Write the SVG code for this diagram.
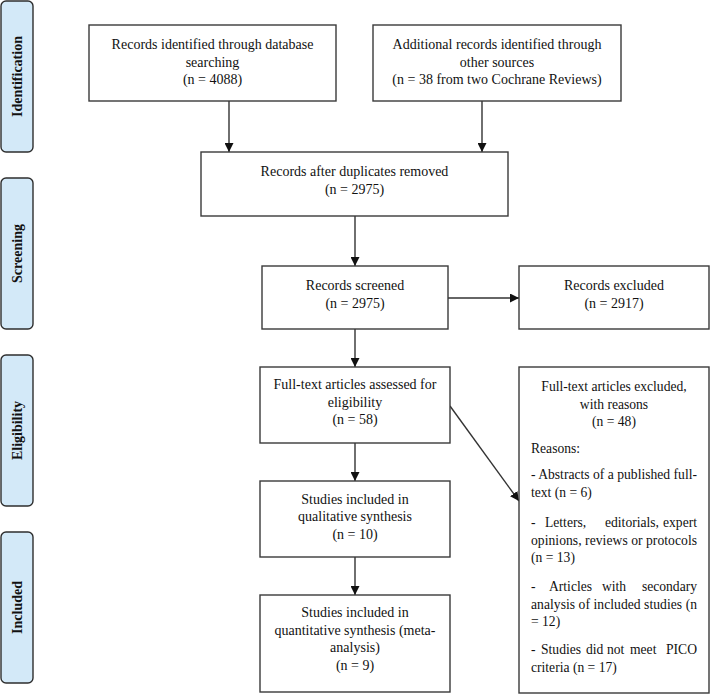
<svg xmlns="http://www.w3.org/2000/svg" width="710" height="697" viewBox="0 0 710 697">
<style>
.bg{fill:#ffffff}
.box{fill:#ffffff;stroke:#3a3a3a;stroke-width:1.4}
.phase{fill:#d3e9f8;stroke:#2e2e2e;stroke-width:1.4}
.t{font-family:"Liberation Serif","Times New Roman",serif;font-size:14px;fill:#111;text-anchor:middle}
.x{font-family:"Liberation Serif","Times New Roman",serif;font-size:13.6px;fill:#111;text-anchor:middle}
.l{font-family:"Liberation Serif","Times New Roman",serif;font-size:13.6px;fill:#111}
.e{font-family:"Liberation Serif","Times New Roman",serif;font-size:13.6px;fill:#111;text-anchor:end}
.p{font-family:"Liberation Serif","Times New Roman",serif;font-size:14px;font-weight:bold;fill:#111;text-anchor:middle}
.c{stroke:#333;stroke-width:1.4;fill:none}
</style>
<defs>
<marker id="ah" viewBox="0 0 10 10" refX="10" refY="5" markerWidth="9" markerHeight="9" markerUnits="userSpaceOnUse" orient="auto">
<path d="M0,0 L10,5 L0,10 Z" fill="#111"/>
</marker>
</defs>
<rect class="bg" x="0" y="0" width="710" height="697"/>

<g id="phase-identification">
<rect class="phase" x="1" y="1" width="32" height="151" rx="5"/>
<text class="p" transform="translate(22,76.5) rotate(-90)">Identification</text>
</g>
<g id="phase-screening">
<rect class="phase" x="1" y="178" width="32" height="151" rx="5"/>
<text class="p" transform="translate(22,253.5) rotate(-90)">Screening</text>
</g>
<g id="phase-eligibility">
<rect class="phase" x="1" y="355" width="32" height="151" rx="5"/>
<text class="p" transform="translate(22,430.5) rotate(-90)">Eligibility</text>
</g>
<g id="phase-included">
<rect class="phase" x="1" y="532" width="32" height="151" rx="5"/>
<text class="p" transform="translate(22,607.5) rotate(-90)">Included</text>
</g>

<g id="connectors">
<line class="c" x1="229" y1="101" x2="229" y2="152" marker-end="url(#ah)"/>
<line class="c" x1="482" y1="101" x2="482" y2="152" marker-end="url(#ah)"/>
<line class="c" x1="355" y1="216" x2="355" y2="266" marker-end="url(#ah)"/>
<line class="c" x1="448" y1="298" x2="519" y2="298" marker-end="url(#ah)"/>
<line class="c" x1="355" y1="329" x2="355" y2="367" marker-end="url(#ah)"/>
<line class="c" x1="450" y1="406" x2="519" y2="501" marker-end="url(#ah)"/>
<line class="c" x1="355" y1="443" x2="355" y2="481" marker-end="url(#ah)"/>
<line class="c" x1="355" y1="557" x2="355" y2="595" marker-end="url(#ah)"/>
</g>

<g id="records-database">
<rect class="box" x="89" y="25" width="247" height="76"/>
<text class="t" x="212.5" y="49">Records identified through database</text>
<text class="t" x="212.5" y="66.5">searching</text>
<text class="t" x="212.5" y="84">(n = 4088)</text>
</g>
<g id="records-other">
<rect class="box" x="373" y="25" width="248" height="76"/>
<text class="t" x="497" y="49">Additional records identified through</text>
<text class="t" x="497" y="66.5">other sources</text>
<text class="t" x="497" y="84">(n = 38 from two Cochrane Reviews)</text>
</g>
<g id="records-dedup">
<rect class="box" x="201" y="152" width="307" height="64"/>
<text class="t" x="354.5" y="176">Records after duplicates removed</text>
<text class="t" x="354.5" y="193.5">(n = 2975)</text>
</g>
<g id="records-screened">
<rect class="box" x="262" y="266" width="186" height="63"/>
<text class="t" x="355" y="290">Records screened</text>
<text class="t" x="355" y="307.5">(n = 2975)</text>
</g>
<g id="records-excluded">
<rect class="box" x="519" y="266" width="190" height="63"/>
<text class="t" x="614" y="290">Records excluded</text>
<text class="t" x="614" y="307.5">(n = 2917)</text>
</g>
<g id="fulltext-assessed">
<rect class="box" x="260" y="367" width="190" height="76"/>
<text class="t" x="355" y="389">Full-text articles assessed for</text>
<text class="t" x="355" y="406.5">eligibility</text>
<text class="t" x="355" y="424">(n = 58)</text>
</g>
<g id="qualitative">
<rect class="box" x="260" y="481" width="190" height="76"/>
<text class="t" x="355" y="503.5">Studies included in</text>
<text class="t" x="355" y="521">qualitative synthesis</text>
<text class="t" x="355" y="538.5">(n = 10)</text>
</g>
<g id="quantitative">
<rect class="box" x="260" y="595" width="190" height="97"/>
<text class="t" x="355" y="617">Studies included in</text>
<text class="t" x="355" y="634.5">quantitative synthesis (meta-</text>
<text class="t" x="355" y="652">analysis)</text>
<text class="t" x="355" y="669.5">(n = 9)</text>
</g>
<g id="fulltext-excluded">
<rect class="box" x="519" y="367" width="190" height="326"/>
<text class="x" x="614" y="391">Full-text articles excluded,</text>
<text class="x" x="614" y="408.5">with reasons</text>
<text class="x" x="614" y="426">(n = 48)</text>
<text class="l" x="531" y="452.5">Reasons:</text>
<text class="l" x="531" y="479" textLength="166" lengthAdjust="spacing">- Abstracts of a published full-</text>
<text class="l" x="531" y="496.5">text (n = 6)</text>
<text class="l" y="526.5"><tspan x="531">-</tspan><tspan x="545">Letters,</tspan><tspan x="605">editorials,</tspan></text>
<text class="e" x="697" y="526.5">expert</text>
<text class="l" x="531" y="544.5" textLength="166" lengthAdjust="spacing">opinions, reviews or protocols</text>
<text class="l" x="531" y="562">(n = 13)</text>
<text class="l" y="591"><tspan x="531">-</tspan><tspan x="549">Articles</tspan><tspan x="602">with</tspan></text>
<text class="e" x="697" y="591">secondary</text>
<text class="l" x="531" y="608.5" textLength="166" lengthAdjust="spacing">analysis of included studies (n</text>
<text class="l" x="531" y="626">= 12)</text>
<text class="l" y="654"><tspan x="531">-</tspan><tspan x="541">Studies</tspan><tspan x="586">did</tspan><tspan x="607">not</tspan><tspan x="630">meet</tspan></text>
<text class="e" x="697" y="654">PICO</text>
<text class="l" x="531" y="671.5">criteria (n = 17)</text>
</g>
</svg>
